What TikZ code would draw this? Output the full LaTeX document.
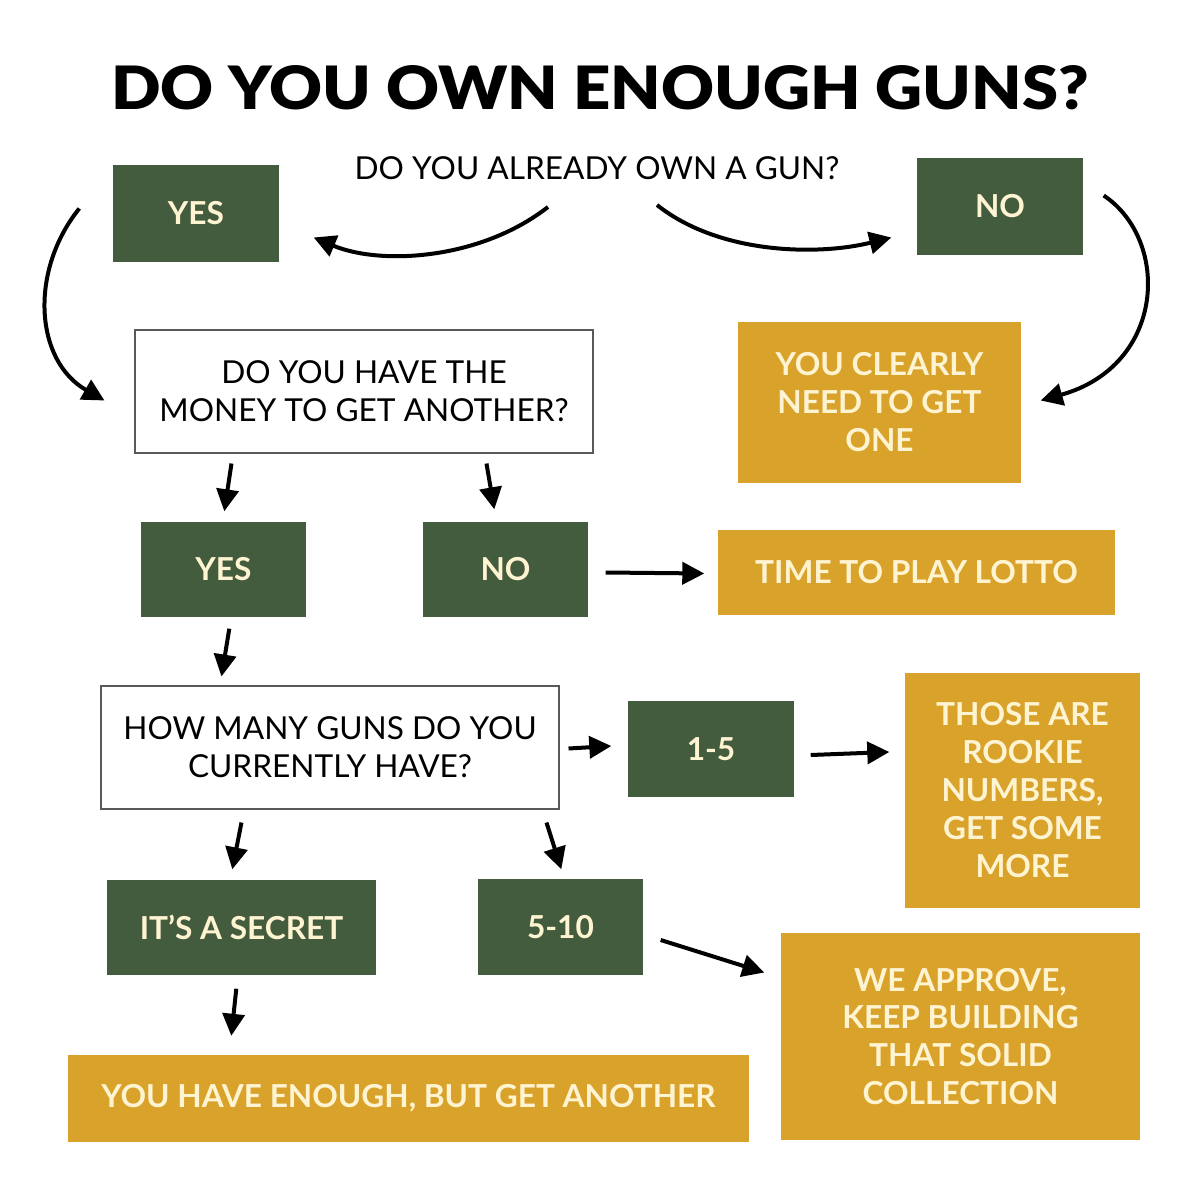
\documentclass[tikz,border=0pt]{standalone}
\usepackage{fontspec}
\setmainfont{Lato}
\newfontfamily\titlefont[FakeStretch=1.09]{Lato Black}
\usetikzlibrary{arrows.meta,calc,positioning}
\definecolor{boxgreen}{HTML}{445C3E}
\definecolor{boxgold}{HTML}{D9A22B}
\definecolor{boxtext}{HTML}{FFF4D2}
\newcommand\boxsize{\fontsize{9}{10.8}\selectfont}
\tikzset{
	greenbox/.style={rectangle,fill=boxgreen,text=boxtext,font=\bfseries\boxsize,align=center,inner sep=0pt},
	goldbox/.style={rectangle,fill=boxgold,text=boxtext,font=\bfseries\boxsize,align=center,inner sep=0pt},
	askbox/.style={rectangle,draw=black!65,line width=0.3pt,fill=white,font=\boxsize,align=center,inner sep=0pt},
	arr/.style={-{Triangle[length=2.2mm,width=2.2mm]},line width=0.4mm}
}

\begin{document}
\begin{tikzpicture}[x=0.1mm,y=-0.1mm]
				\useasboundingbox (0,0) rectangle (1200,1200);
				\path 
				(600,88) node(title) [font=\titlefont\fontsize{17}{20}\selectfont] {DO YOU OWN ENOUGH GUNS?}
				(597,168) node(q) [font=\boxsize] {DO YOU ALREADY OWN A GUN?}
				(196,213.5) node(yes) [greenbox,minimum width=16.6mm,minimum height=9.7mm] {YES}
				(1000,206.5) node(no) [greenbox,minimum width=16.6mm,minimum height=9.7mm] {NO}
				(364,391.5) node(money) [askbox,minimum width=45.8mm,minimum height=12.3mm] {DO YOU HAVE THE\\MONEY TO GET ANOTHER?}
				(879.5,402) node(clearly) [goldbox,minimum width=28.3mm,minimum height=16.1mm] {YOU CLEARLY\\NEED TO GET\\ONE}
				(223.5,569.5) node(yes2) [greenbox,minimum width=16.5mm,minimum height=9.5mm] {YES}
				(505.5,569.5) node(no2) [greenbox,minimum width=16.5mm,minimum height=9.5mm] {NO}
				(916.5,572.5) node(lotto) [goldbox,minimum width=39.7mm,minimum height=8.5mm] {TIME TO PLAY LOTTO}
				(330,747.5) node(many) [askbox,minimum width=45.8mm,minimum height=12.3mm] {HOW MANY GUNS DO YOU\\CURRENTLY HAVE?}
				(711,749) node(few) [greenbox,minimum width=16.6mm,minimum height=9.6mm] {1-5}
				(1022.5,790) node(rookie) [goldbox,minimum width=23.5mm,minimum height=23.5mm] {THOSE ARE\\ROOKIE\\NUMBERS,\\GET SOME\\MORE}
				(241.5,927.5) node(secret) [greenbox,minimum width=26.9mm,minimum height=9.5mm] {IT'S A SECRET}
				(560.5,927) node(more) [greenbox,minimum width=16.5mm,minimum height=9.6mm] {5-10}
				(408.5,1098) node(enough) [goldbox,minimum width=68.1mm,minimum height=8.7mm] {YOU HAVE ENOUGH, BUT GET ANOTHER}
				(960.5,1036.5) node(approve) [goldbox,minimum width=35.9mm,minimum height=20.7mm] {WE APPROVE,\\KEEP BUILDING\\THAT SOLID\\COLLECTION};
				\draw[arr] ([shift={(-49,39)}]q.center) .. controls +(-68,53) and +(67,28) .. ([shift={(34,24)}]yes.east);
				\draw[arr] ([shift={(60,37)}]q.center) .. controls +(63,50) and +(-72,18) .. ([shift={(-25,31)}]no.west);
				\draw[arr] ([shift={(-33,-5)}]yes.west) .. controls +(-50,62) and +(-70,-40) .. ([shift={(-30,9)}]money.west);
				\draw[arr] ([shift={(20,-11)}]no.east) .. controls +(67,45) and +(125,-35) .. ([shift={(19,-1.5)}]clearly.east);
				\draw   
				([shift={(97,10)}]money.south west) edge[arr] ([shift={(84,-10)}]yes2.north west)
				([shift={(352,10)}]money.south west) edge[arr] ([shift={(72,-12)}]no2.north west)
				([shift={(17,3)}]no2.east) edge[arr] ([shift={(-13,1)}]lotto.west)
				([shift={(89,11)}]yes2.south west) edge[arr] ([shift={(121,-9)}]many.north west)
				([shift={(9,1)}]many.east) edge[arr] ([shift={(-16,-3)}]few.west)
				([shift={(16,6)}]few.east) edge[arr] ([shift={(-15,-38)}]rookie.west)
				([shift={(141,13)}]many.south west) edge[arr] ([shift={(126,-10)}]secret.north west)
				([shift={(446,13)}]many.south west) edge[arr] ([shift={(84,-9)}]more.north west)
				([shift={(17,13)}]more.east) edge[arr] ([shift={(-16,-64)}]approve.west)
				([shift={(130,13)}]secret.south west) edge[arr] ([shift={(164,-18)}]enough.north west);
			\end{tikzpicture}
\end{document}
